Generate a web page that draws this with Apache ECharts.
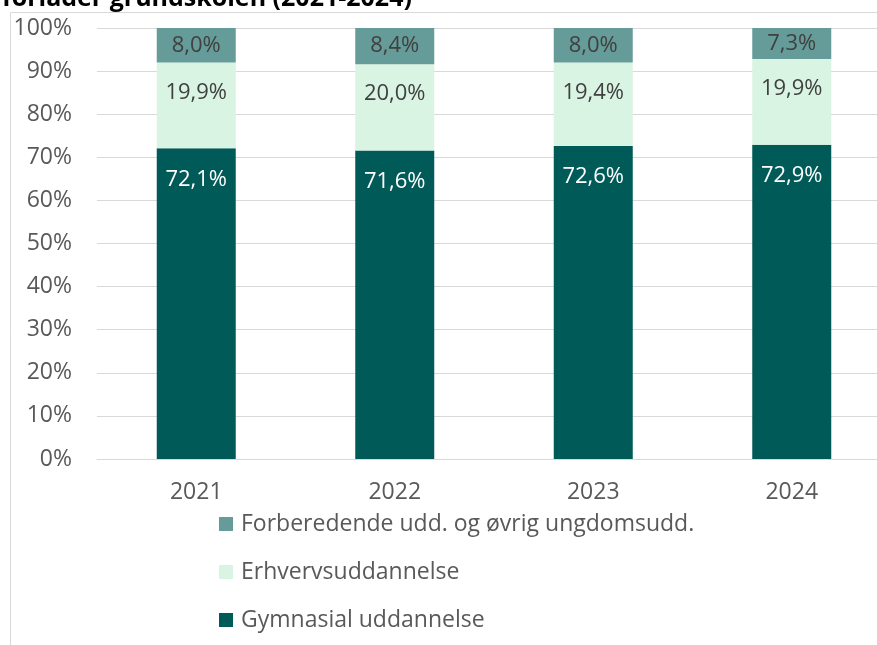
<!DOCTYPE html>
<html>
<head>
<meta charset="utf-8">
<script src="https://cdn.jsdelivr.net/npm/echarts@6/dist/echarts.min.js"></script>
<style>
html,body{margin:0;padding:0;background:#fff;overflow:hidden;width:877px;height:645px;}
#chart{width:900px;height:645px;}
</style>
</head>
<body>
<div id="chart"></div>
<script>
const categories = ['2021', '2022', '2023', '2024'];
const gymnasial = [72.1, 71.6, 72.6, 72.9];
const erhverv = [19.9, 20.0, 19.4, 19.9];
const forberedende = [8.0, 8.4, 8.0, 7.3];
const yTicks = [0, 10, 20, 30, 40, 50, 60, 70, 80, 90, 100];
const titleText = 'forlader grundskolen (2021-2024)';
const names = ['Forberedende udd. og øvrig ungdomsudd.', 'Erhvervsuddannelse', 'Gymnasial uddannelse'];

const FONT = '"Open Sans", "Noto Sans", sans-serif';
const fmt = p => p.value.toFixed(1).replace('.', ',') + '%';

const chart = echarts.init(document.getElementById('chart'), null, {renderer: 'canvas'});
chart.setOption({
  animation: false,
  textStyle: {fontFamily: FONT},
  graphic: [
    {type: 'rect', shape: {x: 10.5, y: 12.5, width: 900, height: 700},
     style: {fill: 'none', stroke: '#d9d9d9', lineWidth: 1}, z: -10},
    {type: 'text', x: 2, y: 11,
     style: {text: titleText, fontSize: 25, fontWeight: 'bold', fill: '#000', fontFamily: FONT, verticalAlign: 'bottom'}}
  ],
  grid: {left: 97, top: 28, width: 794, height: 431, containLabel: false},
  legend: {
    orient: 'vertical', left: 214, top: 507,
    itemWidth: 14, itemHeight: 14, itemGap: 24,
    icon: 'rect',
    data: [names[0], names[1], names[2]],
    textStyle: {fontSize: 23, color: '#595959', fontFamily: FONT, lineHeight: 24, padding: [0, 0, 0, 3]}
  },
  xAxis: {
    type: 'category', data: categories,
    axisLine: {lineStyle: {color: '#d9d9d9', width: 1}},
    axisTick: {show: false},
    axisLabel: {fontSize: 23, color: '#595959', margin: 22, fontFamily: FONT}
  },
  yAxis: {
    type: 'value', min: yTicks[0], max: yTicks[yTicks.length - 1], interval: yTicks[1] - yTicks[0],
    axisLine: {show: false}, axisTick: {show: false},
    splitLine: {lineStyle: {color: '#d9d9d9', width: 1}},
    axisLabel: {fontSize: 23, color: '#595959', margin: 25, fontFamily: FONT, formatter: v => v + '%'}
  },
  series: [
    {name: names[2], type: 'bar', stack: 'a', data: gymnasial, barWidth: 79,
     itemStyle: {color: '#005B58'},
     label: {show: true, position: 'insideTop', distance: 20, formatter: fmt, fontSize: 22, color: '#ffffff', fontFamily: FONT}},
    {name: names[1], type: 'bar', stack: 'a', data: erhverv, barWidth: 79,
     itemStyle: {color: '#D9F4E2'},
     label: {show: true, position: 'insideTop', distance: 19, formatter: fmt, fontSize: 22, color: '#404040', fontFamily: FONT}},
    {name: names[0], type: 'bar', stack: 'a', data: forberedende, barWidth: 79,
     itemStyle: {color: '#659B98'},
     label: {show: true, position: 'inside', formatter: fmt, fontSize: 22, color: '#404040', fontFamily: FONT}}
  ]
});
</script>
</body>
</html>
